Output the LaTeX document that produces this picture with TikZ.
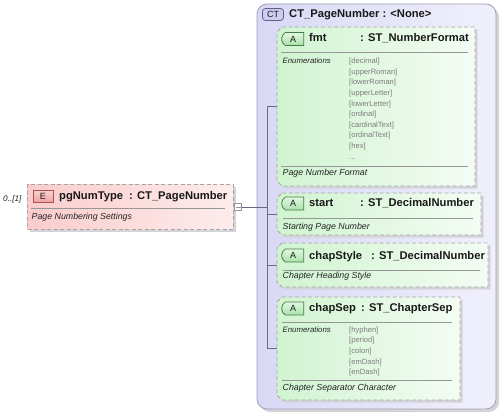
\documentclass[tikz,border=0pt]{standalone}
\usepackage{fontspec}
\setmainfont{Liberation Sans}
\usetikzlibrary{shapes.misc}
\definecolor{ctA}{RGB}{216,216,246}
\definecolor{ctB}{RGB}{240,240,252}
\definecolor{ctborder}{RGB}{160,160,178}
\definecolor{gA}{RGB}{208,244,208}
\definecolor{gB}{RGB}{244,252,244}
\definecolor{pA}{RGB}{250,204,204}
\definecolor{pB}{RGB}{253,236,236}
\definecolor{dashc}{RGB}{165,165,165}
\definecolor{shadowc}{RGB}{212,212,216}
\definecolor{sepc}{RGB}{150,150,150}
\definecolor{titlec}{RGB}{25,25,25}
\definecolor{descc}{RGB}{35,35,35}
\definecolor{enumc}{RGB}{125,125,125}
\definecolor{treec}{RGB}{105,105,125}
\definecolor{abA}{RGB}{170,225,170}
\definecolor{abB}{RGB}{225,248,225}
\definecolor{abborder}{RGB}{70,125,70}
\definecolor{ctbA}{RGB}{205,205,240}
\definecolor{ctbborder}{RGB}{95,95,140}
\definecolor{ebA}{RGB}{238,160,160}
\definecolor{ebB}{RGB}{250,210,210}
\definecolor{ebborder}{RGB}{175,80,80}
\newcommand\mygreenbox[4]{%
  \fill[shadowc] (#1+5+2.5,#2+2.5) -- (#3+2.5,#2+2.5) -- (#3+2.5,#4+2.5) -- (#1+5+2.5,#4+2.5) -- (#1+2.5,#4-5+2.5) -- (#1+2.5,#2+5+2.5) -- cycle;
  \path[left color=gA, right color=gB, draw=dashc, boxdash] (#1+5,#2) -- (#3,#2) -- (#3,#4) -- (#1+5,#4) -- (#1,#4-5) -- (#1,#2+5) -- cycle;
}
\begin{document}
\begin{tikzpicture}[x=1pt,y=-1pt,
  boxdash/.style={line width=0.8pt, dash pattern=on 4pt off 2.5pt},
  hdr/.style={font=\fontsize{11.2}{13}\selectfont\bfseries, text=titlec, inner sep=0, anchor=base west},
  descr/.style={font=\fontsize{8.8}{10}\selectfont\itshape, text=descc, inner sep=0, anchor=base west},
  enumlbl/.style={font=\fontsize{7.8}{9}\selectfont\itshape, text=descc, inner sep=0, anchor=base west},
  enumval/.style={font=\fontsize{7.6}{9}\selectfont, text=enumc, inner sep=0, anchor=base west},
  sepline/.style={sepc, line width=0.8pt},
  tree/.style={treec, line width=0.8pt},
  abadge/.style={rounded rectangle, rounded rectangle right arc=none, rounded rectangle arc length=120,
    minimum width=22pt, minimum height=13pt, inner sep=0, draw=abborder, line width=0.8pt,
    top color=abB, bottom color=abA, font=\fontsize{9}{10}\selectfont, text=titlec},
  ctbadge/.style={rectangle, rounded corners=3pt, minimum width=21pt, minimum height=12pt, inner sep=0,
    draw=ctbborder, line width=0.8pt, fill=ctbA, font=\fontsize{9}{10}\selectfont, text=titlec},
  ebadge/.style={rectangle, minimum width=20pt, minimum height=12pt, inner sep=0,
    draw=ebborder, line width=0.8pt, top color=ebB, bottom color=ebA, font=\fontsize{9}{10}\selectfont, text=titlec}
]
\useasboundingbox (0,0) rectangle (500,414);

% complex type container
\fill[shadowc, rounded corners=10pt] (260,7) rectangle (499,412);
\path[draw=ctborder, line width=0.8pt, left color=ctA, right color=ctB, rounded corners=10pt] (257,4) rectangle (496,409);
\node[ctbadge] (ctb) at (273,14.5) {CT};
\node[hdr] (cttitle) at (289,18) {CT\_PageNumber : <None>};

% tree connectors
\coordinate (tfmt) at (267,106.5);
\coordinate (tstart) at (267,214);
\coordinate (tchs) at (267,265);
\coordinate (tcsep) at (267,348.5);
\coordinate (tjoin) at (267,207);
\coordinate (fmtL) at (277,106.5);
\coordinate (startL) at (277,214);
\coordinate (chsL) at (277,265);
\coordinate (csepL) at (277,348.5);
\draw[tree] (tfmt) -- (tcsep);
\draw[tree] (tfmt) -- (fmtL);
\draw[tree] (tstart) -- (startL);
\draw[tree] (tchs) -- (chsL);
\draw[tree] (tcsep) -- (csepL);

% fmt
\mygreenbox{277}{27}{475}{186}
\node[abadge] (afmt) at (293,39) {A};
\node[hdr] (nfmt) at (309,41.5) {fmt};
\node[hdr] (tyfmt) at (360,41.5) {: ST\_NumberFormat};
\draw[sepline] (281,52) -- (468,52);
\node[enumlbl] (efmt) at (282.5,63.7) {Enumerations};
\node[enumval] (v1) at (349,63.7) {[decimal]};
\node[enumval] (v2) at (349,74.3) {[upperRoman]};
\node[enumval] (v3) at (349,84.9) {[lowerRoman]};
\node[enumval] (v4) at (349,95.5) {[upperLetter]};
\node[enumval] (v5) at (349,106.1) {[lowerLetter]};
\node[enumval] (v6) at (349,116.7) {[ordinal]};
\node[enumval] (v7) at (349,127.3) {[cardinalText]};
\node[enumval] (v8) at (349,137.9) {[ordinalText]};
\node[enumval] (v9) at (349,148.5) {[hex]};
\node[enumval] (v10) at (349,159.1) {...};
\draw[sepline] (281,166) -- (468,166);
\node[descr] (dfmt) at (282.5,175.7) {Page Number Format};

% start
\mygreenbox{277}{193}{481}{235}
\node[abadge] (astart) at (293,203.5) {A};
\node[hdr] (nstart) at (309,206.5) {start};
\node[hdr] (tystart) at (360,206.5) {: ST\_DecimalNumber};
\draw[sepline] (283,218.5) -- (473,218.5);
\node[descr] (dstart) at (282.5,229.5) {Starting Page Number};

% chapStyle
\mygreenbox{277}{243}{488}{287}
\node[abadge] (achs) at (293,255.5) {A};
\node[hdr] (nchs) at (309,259) {chapStyle};
\node[hdr] (tychs) at (371,259) {: ST\_DecimalNumber};
\draw[sepline] (283,270) -- (480,270);
\node[descr] (dchs) at (282.5,278.8) {Chapter Heading Style};

% chapSep
\mygreenbox{277}{297}{460}{400}
\node[abadge] (acsep) at (293,308.5) {A};
\node[hdr] (ncsep) at (309,311.7) {chapSep};
\node[hdr] (tycsep) at (361,311.7) {: ST\_ChapterSep};
\draw[sepline] (282,322.3) -- (452,322.3);
\node[enumlbl] (ecsep) at (282.5,332) {Enumerations};
\node[enumval] (w1) at (349,332) {[hyphen]};
\node[enumval] (w2) at (349,342.7) {[period]};
\node[enumval] (w3) at (349,353.4) {[colon]};
\node[enumval] (w4) at (349,364.1) {[emDash]};
\node[enumval] (w5) at (349,374.8) {[enDash]};
\draw[sepline] (282,380.7) -- (452,380.7);
\node[descr] (dcsep) at (282.5,390.3) {Chapter Separator Character};

% element
\fill[shadowc] (29.5,186.5) rectangle (235.5,231.5);
\path[left color=pA, right color=pB, draw=dashc, boxdash] (27,184) rectangle (233,229);
\node[ebadge] (eb) at (43,196.5) {E};
\node[hdr] (nel) at (59,200) {pgNumType};
\node[hdr] (tyel) at (129,200) {: CT\_PageNumber};
\draw[sepline] (31,208.5) -- (225,208.5);
\node[descr] (del) at (31.5,219.7) {Page Numbering Settings};
\node[enumlbl, font=\fontsize{8.2}{9}\selectfont\itshape] (occ) at (3,201.7) {0..[1]};

% expander
\node[draw=sepc, fill=white, line width=0.7pt, minimum size=7.5pt, inner sep=0] (minus) at (238,207) {};
\draw[sepc, line width=0.7pt] ([xshift=1.6pt]minus.west) -- ([xshift=-1.6pt]minus.east);
\draw[tree] (minus) -- (tjoin);
\end{tikzpicture}
\end{document}
